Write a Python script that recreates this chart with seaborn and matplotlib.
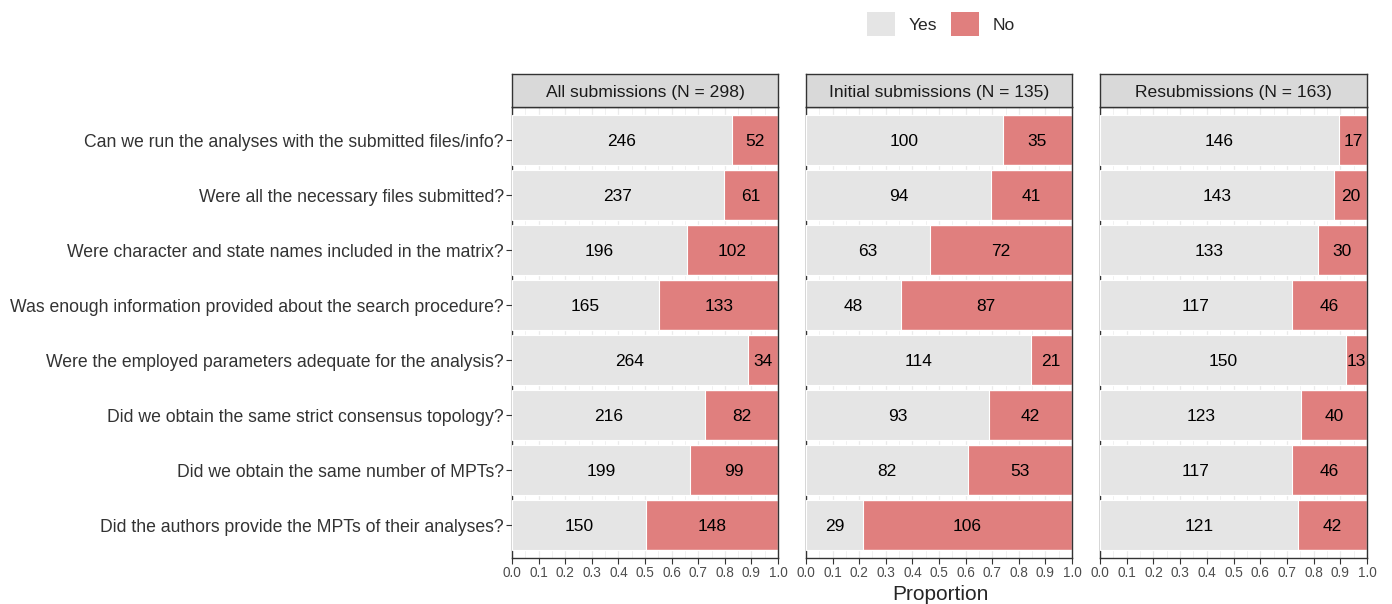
import numpy as np
import pandas as pd
import matplotlib
matplotlib.use("Agg")
import matplotlib.pyplot as plt
from matplotlib.patches import Patch
import seaborn as sns

# ---- data ----
questions = [
    "Can we run the analyses with the submitted files/info?",
    "Were all the necessary files submitted?",
    "Were character and state names included in the matrix?",
    "Was enough information provided about the search procedure?",
    "Were the employed parameters adequate for the analysis?",
    "Did we obtain the same strict consensus topology?",
    "Did we obtain the same number of MPTs?",
    "Did the authors provide the MPTs of their analyses?",
]
facets = ["All submissions", "Initial submissions", "Resubmissions"]

yes_all = [246, 237, 196, 165, 264, 216, 199, 150]
no_all = [52, 61, 102, 133, 34, 82, 99, 148]
yes_initial = [100, 94, 63, 48, 114, 93, 82, 29]
no_initial = [35, 41, 72, 87, 21, 42, 53, 106]
yes_resub = [146, 143, 133, 117, 150, 123, 117, 121]
no_resub = [17, 20, 30, 46, 13, 40, 46, 42]

YES_COL = "#E5E5E5"
NO_COL = "#E07F7E"

rows = []
for facet, ys, ns in zip(facets, [yes_all, yes_initial, yes_resub], [no_all, no_initial, no_resub]):
    for q, y, n in zip(questions, ys, ns):
        rows.append({"facet": facet, "question": q, "yes": y, "no": n,
                     "total": y + n, "p_yes": y / (y + n), "p_total": 1.0})
df = pd.DataFrame(rows)

sns.set_theme(style="white")
plt.rcParams["font.family"] = ["Liberation Sans", "DejaVu Sans"]

W, H = 1392, 604
fig = plt.figure(figsize=(W / 100, H / 100), dpi=100)

panels_x = [(512, 778), (806, 1072), (1100, 1367)]
panel_top, panel_bot = 107, 558
strip_top = 74

for i, (facet, (x0, x1)) in enumerate(zip(facets, panels_x)):
    sub = df[df["facet"] == facet]
    n_total = sub["total"].iloc[0]
    ax = fig.add_axes([x0 / W, 1 - panel_bot / H, (x1 - x0) / W, (panel_bot - panel_top) / H])
    # grid
    for gx in np.arange(0, 1.0001, 0.05):
        ax.axvline(gx, color="#EBEBEB", lw=0.9 if round(gx * 20) % 2 == 0 else 0.5, zorder=0)
    # No = full bar, Yes overlaid
    sns.barplot(data=sub, y="question", x="p_total", order=questions, color=NO_COL,
                width=0.9, orient="h", ax=ax, saturation=1, zorder=2)
    sns.barplot(data=sub, y="question", x="p_yes", order=questions, color=YES_COL,
                width=0.9, orient="h", ax=ax, saturation=1, zorder=3,
                edgecolor="white", linewidth=0.8)
    for j, r in enumerate(sub.itertuples()):
        ax.text(r.p_yes / 2, j, str(r.yes), ha="center", va="center_baseline",
                fontsize=12.5, color="black", zorder=4)
        ax.text(r.p_yes + (1 - r.p_yes) / 2, j, str(r.no), ha="center", va="center_baseline",
                fontsize=12.5, color="black", zorder=4)
    ax.set_xlim(0, 1)
    ax.set_ylim(len(questions) - 0.4, -0.6)
    ax.set_xticks(np.arange(0, 1.01, 0.1))
    ax.set_xticklabels([f"{v:.1f}" for v in np.arange(0, 1.01, 0.1)], fontsize=9.8, color="#4D4D4D")
    ax.set_xlabel("")
    ax.set_ylabel("")
    ax.tick_params(axis="x", length=4, width=0.8, color="#333333", pad=2, bottom=True)
    ax.set_yticks(range(len(questions)))
    if i == 0:
        ax.set_yticklabels(questions, fontsize=12.7, color="#333333")
        ax.tick_params(axis="y", length=4, width=0.8, color="#333333", pad=2, left=True)
    else:
        ax.set_yticklabels([])
        ax.tick_params(axis="y", length=0)
    for s in ax.spines.values():
        s.set_color("#333333")
        s.set_linewidth(1.0)
    # strip
    sax = fig.add_axes([x0 / W, 1 - panel_top / H, (x1 - x0) / W, (panel_top - strip_top) / H])
    sax.set_facecolor("#D9D9D9")
    sax.set_xticks([])
    sax.set_yticks([])
    for s in sax.spines.values():
        s.set_color("#333333")
        s.set_linewidth(1.0)
    sax.text(0.5, 0.5, f"{facet} (N = {n_total})", ha="center", va="center_baseline",
             fontsize=12.6, color="#1A1A1A", transform=sax.transAxes)

fig.text(940 / W, 1 - 594 / H, "Proportion", ha="center", va="center", fontsize=15)

handles = [Patch(facecolor=YES_COL, edgecolor="none", label="Yes"),
           Patch(facecolor=NO_COL, edgecolor="none", label="No")]
fig.legend(handles=handles, loc="center", bbox_to_anchor=(941 / W, 1 - 24 / H), ncol=2,
           frameon=False, fontsize=12.6, handlelength=1.6, handleheight=1.75,
           handletextpad=0.8, columnspacing=0.75)

fig.savefig("out.png", dpi=100)
